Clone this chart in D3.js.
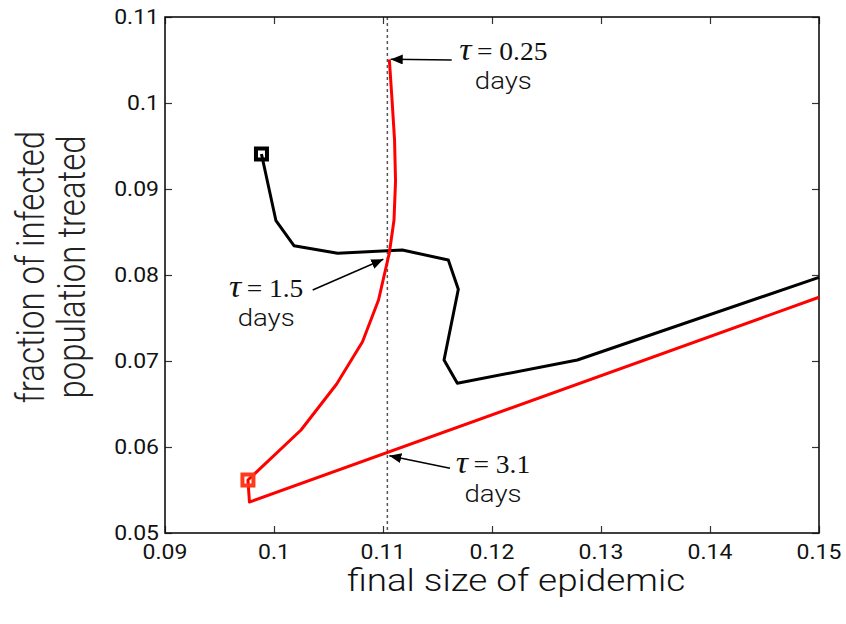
<!DOCTYPE html>
<html>
<head>
<meta charset="utf-8">
<script src="https://cdn.jsdelivr.net/npm/d3@7"></script>
<style>
  html, body { margin: 0; padding: 0; background: #fff; }
  svg { display: block; }
</style>
</head>
<body>
<svg id="chart" width="846" height="624"></svg>
<script>
// ---- data ----
const xTicks = [0.09, 0.10, 0.11, 0.12, 0.13, 0.14, 0.15];
const xTickLabels = ["0.09", "0.1", "0.11", "0.12", "0.13", "0.14", "0.15"];
const yTicks = [0.05, 0.06, 0.07, 0.08, 0.09, 0.10, 0.11];
const yTickLabels = ["0.05", "0.06", "0.07", "0.08", "0.09", "0.1", "0.11"];

const blackX = [0.09885, 0.10018, 0.10183, 0.10584, 0.11177, 0.11599, 0.11691, 0.11560, 0.11682, 0.12783, 0.15];
const blackY = [0.09407, 0.08631, 0.08341, 0.08252, 0.08291, 0.08174, 0.07834, 0.07012, 0.06741, 0.07012, 0.07973];

const redX = [0.11058, 0.11083, 0.11106, 0.11115, 0.11101, 0.11058, 0.10959, 0.10812, 0.10575, 0.10248, 0.09761, 0.09775, 0.15];
const redY = [0.10508, 0.10035, 0.09570, 0.09093, 0.08640, 0.08256, 0.07709, 0.07224, 0.06733, 0.06198, 0.05616, 0.05360, 0.07741];

const blackStart = [0.09885, 0.09407];
const redStart = [0.09761, 0.05616];

const refLineX = 0.1104;

const annotLabels = ["0.25", "1.5", "3.1"];
const annotTip  = [[0.11071, 0.10508], [0.11003, 0.08183], [0.11058, 0.05899]];
const annotTail = [[0.11630, 0.10500], [0.10355, 0.07826], [0.11615, 0.05752]];
const annotText = [[0.12104, 0.10500], [0.09928, 0.07748], [0.12009, 0.05699]];

const xLabel = "final size of epidemic";
const yLabelLines = ["fraction of infected", "population treated"];

// ---- layout ----
const M = { left: 165, top: 17, right: 819, bottom: 533 };
const SX = 1.15;
const svg = d3.select("#chart");

const x = d3.scaleLinear().domain([0.09, 0.15]).range([M.left, M.right]);
const y = d3.scaleLinear().domain([0.05, 0.11]).range([M.bottom, M.top]);

const sans = "Roboto, 'Liberation Sans', Arial, Helvetica, sans-serif";
const serif = "'Liberation Serif', 'Times New Roman', Times, serif";

function stretchedText(parent, px, py, str, size, anchor, family, sx, weight) {
  const g = parent.append("g").attr("transform", `translate(${px},${py}) scale(${sx},1)`);
  return g.append("text").attr("x", 0).attr("y", 0)
    .attr("text-anchor", anchor).attr("font-family", family)
    .attr("font-weight", weight || 300)
    .attr("font-size", size).attr("fill", "#111").text(str);
}

// reference dotted line
svg.append("line")
  .attr("x1", x(refLineX)).attr("x2", x(refLineX))
  .attr("y1", y(0.11)).attr("y2", y(0.05))
  .attr("stroke", "#555").attr("stroke-width", 1.5)
  .attr("stroke-dasharray", "3,3");

// axes ticks (inward on all four sides)
const tickLen = 7;
svg.append("g").attr("transform", `translate(0,${M.bottom})`)
  .call(d3.axisBottom(x).tickValues(xTicks).tickSize(-tickLen).tickFormat(""));
svg.append("g").attr("transform", `translate(0,${M.top})`)
  .call(d3.axisTop(x).tickValues(xTicks).tickSize(-tickLen).tickFormat(""));
svg.append("g").attr("transform", `translate(${M.left},0)`)
  .call(d3.axisLeft(y).tickValues(yTicks).tickSize(-tickLen).tickFormat(""));
svg.append("g").attr("transform", `translate(${M.right},0)`)
  .call(d3.axisRight(y).tickValues(yTicks).tickSize(-tickLen).tickFormat(""));
svg.selectAll(".domain").remove();
svg.selectAll(".tick line").attr("stroke", "#333").attr("stroke-width", 1.2);

// frame
svg.append("rect")
  .attr("x", M.left).attr("y", M.top)
  .attr("width", M.right - M.left).attr("height", M.bottom - M.top)
  .attr("fill", "none").attr("stroke", "#111").attr("stroke-width", 1.6);

// tick labels
xTicks.forEach((v, i) => {
  stretchedText(svg, x(v), M.bottom + 26, xTickLabels[i], 20, "middle", sans, SX, 400);
});
yTicks.forEach((v, i) => {
  stretchedText(svg, M.left - 6, y(v) + 7, yTickLabels[i], 20, "end", sans, SX, 400);
});

// lines
const line = d3.line().x(d => x(d[0])).y(d => y(d[1]));
const blackData = blackX.map((v, i) => [v, blackY[i]]);
const redData = redX.map((v, i) => [v, redY[i]]);

svg.append("path").datum(blackData).attr("d", line)
  .attr("fill", "none").attr("stroke", "#000").attr("stroke-width", 3)
  .attr("stroke-linejoin", "round");
svg.append("path").datum(redData).attr("d", line)
  .attr("fill", "none").attr("stroke", "#ff0000").attr("stroke-width", 3)
  .attr("stroke-linejoin", "round");

// start markers
const sq = 11;
svg.append("rect")
  .attr("x", x(blackStart[0]) - sq / 2).attr("y", y(blackStart[1]) - sq / 2)
  .attr("width", sq).attr("height", sq)
  .attr("fill", "none").attr("stroke", "#000").attr("stroke-width", 4);
svg.append("rect")
  .attr("x", x(redStart[0]) - sq / 2).attr("y", y(redStart[1]) - sq / 2)
  .attr("width", sq).attr("height", sq)
  .attr("fill", "none").attr("stroke", "#ff3a1a").attr("stroke-width", 4);

// annotations
const defs = svg.append("defs");
defs.append("marker").attr("id", "arrow")
  .attr("viewBox", "0 0 12 10").attr("refX", 12).attr("refY", 5)
  .attr("markerWidth", 12).attr("markerHeight", 10)
  .attr("markerUnits", "userSpaceOnUse").attr("orient", "auto")
  .append("path").attr("d", "M0,0 L12,5 L0,10 Z").attr("fill", "#000");

annotLabels.forEach((lab, i) => {
  svg.append("line")
    .attr("x1", x(annotTail[i][0])).attr("y1", y(annotTail[i][1]))
    .attr("x2", x(annotTip[i][0])).attr("y2", y(annotTip[i][1]))
    .attr("stroke", "#000").attr("stroke-width", 1.5)
    .attr("marker-end", "url(#arrow)");
  const cx = x(annotText[i][0]), cy = y(annotText[i][1]);
  const t = stretchedText(svg, cx, cy, "", 25, "middle", serif, 1.1, 400);
  t.append("tspan").attr("font-style", "italic").attr("font-size", 31).text("τ");
  t.append("tspan").text("\u2009= " + lab);
  stretchedText(svg, cx, cy + 29, "days", 24, "middle", sans, SX, 300);
});

// axis titles
stretchedText(svg, 516, 591, xLabel, 32, "middle", sans, 1.15, 300);

yLabelLines.forEach((s, i) => {
  const bx = i === 0 ? 44 : 85;
  svg.append("g").attr("transform", `translate(${bx},267) scale(${SX},1) rotate(-90)`)
    .append("text").attr("text-anchor", "middle")
    .attr("font-family", sans).attr("font-weight", 300)
    .attr("font-size", 33).attr("fill", "#222")
    .text(s);
});
</script>
</body>
</html>
